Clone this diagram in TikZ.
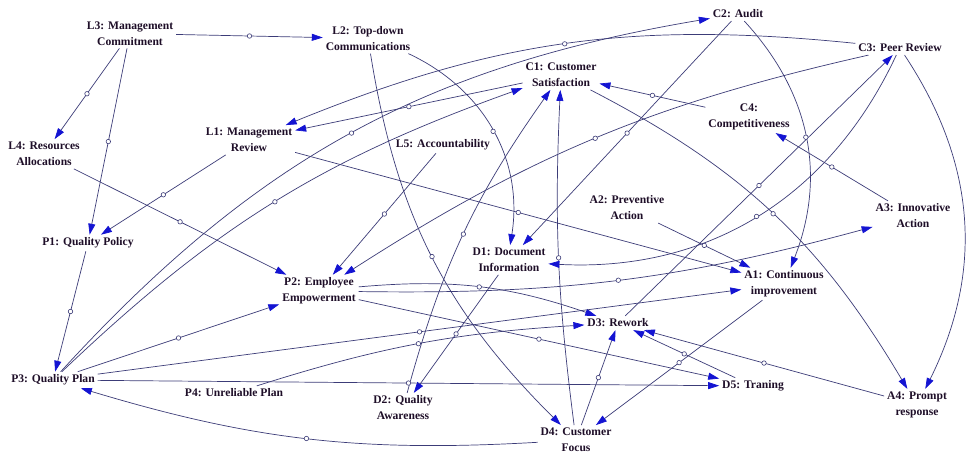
\documentclass[tikz,border=0pt]{standalone}
\usepackage{fontspec}
\setmainfont{Liberation Serif}
\usetikzlibrary{arrows.meta}
\definecolor{linkcol}{HTML}{3C3C78}
\definecolor{headcol}{HTML}{1414D2}
\definecolor{txtcol}{HTML}{1E0E28}
\begin{document}
\begin{tikzpicture}[x=1pt,y=1pt,
  var/.style={align=center, inner sep=3pt, outer sep=0pt, text=txtcol,
              font=\fontsize{11.6}{16}\selectfont\bfseries},
  link/.style={draw=linkcol, line width=0.7pt,
               -{Triangle[length=11pt,width=7pt,color=headcol]}},
  hc/.style={circle, draw=linkcol, fill=white, inner sep=0pt,
             minimum size=4.5pt, line width=0.6pt}]
\useasboundingbox (0,0) rectangle (967,454);
\fill[white] (0,0) rectangle (967,454);

% variables (y measured upwards)
\node[var] (L3) at (130,420.5) {L3: Management\\Commitment};
\node[var] (L2) at (368,415.5) {L2: Top-down\\Communications};
\node[var] (C2) at (738,440) {C2: Audit};
\node[var] (C3) at (900,406) {C3: Peer Review};
\node[var] (C1) at (561,379) {C1: Customer\\Satisfaction};
\node[var] (C4) at (749,337) {C4:\\Competitiveness};
\node[var] (L1) at (249,314) {L1: Management\\Review};
\node[var] (L4) at (44,300) {L4: Resources\\Allocations};
\node[var] (L5) at (443,309) {L5: Accountability};
\node[var] (A2) at (627,246) {A2: Preventive\\Action};
\node[var] (A3) at (913,238) {A3: Innovative\\Action};
\node[var] (P1) at (88,211) {P1: Quality Policy};
\node[var] (D1) at (509,194) {D1: Document\\Information};
\node[var] (P2) at (319,163) {P2: Employee\\Empowerment};
\node[var] (A1) at (784,170) {A1: Continuous\\improvement};
\node[var] (D3) at (618,131) {D3: Rework};
\node[var] (P3) at (53,74) {P3: Quality Plan};
\node[var] (P4) at (234,61) {P4: Unreliable Plan};
\node[var] (D5) at (753,68) {D5: Traning};
\node[var] (D2) at (403,46) {D2: Quality\\Awareness};
\node[var] (A4) at (917,49) {A4: Prompt\\response};
\node[var] (D4) at (576,14) {D4: Customer\\Focus};

% causal links
\draw[link] (L3) -- node[hc]{} (L2);
\draw[link] (L3) -- node[hc]{} (L4);
\draw[link] (L3) -- node[hc]{} (P1);
\draw[link] (L1) -- node[hc]{} (P1);
\draw[link] (L4) -- node[hc]{} (P2);
\draw[link] (L1) -- node[hc]{} (A1);
\draw[link] (A2) -- node[hc]{} (A1);
\draw[link] (C3) to[bend right=14] node[hc]{} (L1);
\draw[link] (C1) -- node[hc]{} (L1);
\draw[link] (L5) -- node[hc]{} (P2);
\draw[link] (C3) to[bend right=10] node[hc]{} (P2);
\draw[link] (P3) -- node[hc]{} (P2);
\draw[link] (P3) to[bend left=12] node[hc]{} (C1);
\draw[link] (P3) to[bend left=19] node[hc]{} (C2);
\draw[link] (D2) to[bend left=10] node[hc]{} (C1);
\draw[link] (D4) to[bend left=5] node[hc]{} (C1);
\draw[link] (C4) -- node[hc]{} (C1);
\draw[link] (D3) -- node[hc]{} (C3);
\draw[link] (A3) -- node[hc]{} (C4);
\draw[link] (P2) to[bend right=8] node[hc]{} (A3);
\draw[link] (P2) to[bend left=12] node[hc]{} (D3);
\draw[link] (P2) -- node[hc]{} (D5);
\draw[link] (L2) to[bend left=37] node[hc]{} (D1);
\draw[link] (C2) -- node[hc]{} (D1);
\draw[link] (C3) to[bend left=34] node[hc]{} (D1);
\draw[link] (C2) to[bend left=32] node[hc]{} (A1);
\draw[link] (C1) to[bend left=16] node[hc]{} (A4);
\draw[link] (C3) to[bend left=30] (A4);
\draw[link] (A4) -- node[hc]{} (D3);
\draw[link] (D5) -- node[hc]{} (D3);
\draw[link] (A1) -- node[hc]{} (D4);
\draw[link] (D4) -- node[hc]{} (D3);
\draw[link] (L2) to[bend right=18] node[hc]{} (D4);
\draw[link] (D1) -- node[hc]{} (D2);
\draw[link] (D4) to[bend left=10] node[hc]{} (P3);
\draw[link] (P1) -- node[hc]{} (P3);
\draw[link] (P3) -- node[hc]{} (A1);
\draw[link] (P3) -- node[hc]{} (D5);
\draw[link] (P4) to[bend left=7] node[hc]{} (D3);
\end{tikzpicture}
\end{document}
